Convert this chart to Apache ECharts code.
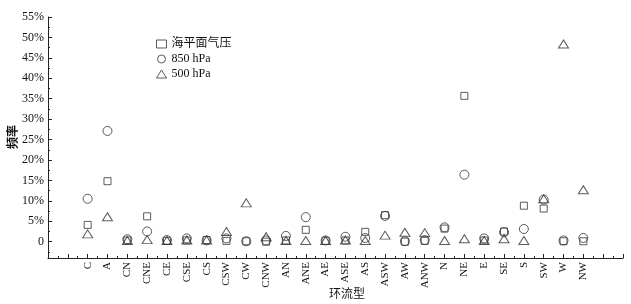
<!DOCTYPE html>
<html>
<head>
<meta charset="utf-8">
<script src="https://cdn.jsdelivr.net/npm/echarts@6/dist/echarts.min.js"></script>
<style>html,body{margin:0;padding:0;background:#fff}#c{width:631px;height:304px}</style>
</head>
<body>
<div id="c"></div>
<script>
var categories = ['C','A','CN','CNE','CE','CSE','CS','CSW','CW','CNW','AN','ANE','AE','ASE','AS','ASW','AW','ANW','N','NE','E','SE','S','SW','W','NW'];
var slpValues  = [4.1,14.8,0.3,6.2,0.2,0.3,0.4,0.2,0.1,0.0,0.3,2.9,0.2,0.3,2.4,6.5,0.0,0.2,3.2,35.7,0.3,2.5,8.8,8.1,0.1,0.1];
var h850Values = [10.5,27.1,0.6,2.5,0.4,0.8,0.3,0.8,0.1,0.3,1.4,6.0,0.3,1.2,0.9,6.3,0.1,0.4,3.5,16.4,0.8,2.3,3.1,10.3,0.3,0.9];
var h500Values = [1.9,6.1,0.3,0.5,0.3,0.4,0.4,2.5,9.5,1.2,0.3,0.3,0.3,0.4,0.3,1.6,2.3,2.2,0.3,0.7,0.3,0.7,0.3,10.5,48.4,12.7];
var yMajorTicks = [0,5,10,15,20,25,30,35,40,45,50,55];
var yMinorTicks = [-2.5,2.5,7.5,12.5,17.5,22.5,27.5,32.5,37.5,42.5,47.5,52.5];
var seriesNames = ['海平面气压','850 hPa','500 hPa'];

function pts(arr){ return arr.map(function(v,i){ return [i, v]; }); }
var FONT = "'Liberation Serif','Noto Sans CJK SC',serif";
var INK = '#222';

var chart = echarts.init(document.getElementById('c'));
var common = {type:'scatter', itemStyle:{color:'rgba(0,0,0,0)', borderColor:'#333', borderWidth:1}, emphasis:{disabled:true}};
chart.setOption({
  animation:false,
  grid:{left:48, right:8, top:17, bottom:46, containLabel:false},
  legend:{
    orient:'vertical', left:151, top:33, itemWidth:10, itemHeight:8, itemGap:3,
    itemStyle:{color:'rgba(0,0,0,0)', borderColor:'#333', borderWidth:1},
    textStyle:{fontFamily:FONT, fontSize:12, color:'#111'},
    data:seriesNames
  },
  xAxis:{
    type:'value', min:-2, max:27, interval:1,
    axisLine:{show:true, onZero:false, lineStyle:{color:INK, width:1}},
    axisTick:{show:true, inside:true, length:4, lineStyle:{color:INK}},
    minorTick:{show:true, splitNumber:2, length:2, lineStyle:{color:INK}},
    splitLine:{show:false}, minorSplitLine:{show:false},
    axisLabel:{rotate:90, margin:4, fontFamily:FONT, fontSize:11, color:'#111',
      formatter:function(v){ return categories[v] !== undefined ? categories[v] : ''; }}
  },
  yAxis:[{
    type:'value', min:-4, max:55,
    axisLine:{show:true, onZero:false, lineStyle:{color:INK, width:1}},
    axisTick:{show:true, inside:true, length:4, customValues:yMajorTicks, lineStyle:{color:INK}},
    splitLine:{show:false},
    axisLabel:{customValues:yMajorTicks, margin:4, fontFamily:FONT, fontSize:12, color:'#111',
      formatter:function(v){ return v === 0 ? '0' : v + '%'; }}
  },{
    type:'value', min:-4, max:55, position:'left',
    axisLine:{show:false, onZero:false},
    axisTick:{show:true, inside:true, length:2, customValues:yMinorTicks, lineStyle:{color:INK}},
    splitLine:{show:false},
    axisLabel:{show:false}
  }],
  graphic:[
    {type:'text', x:12, y:137, rotation:Math.PI/2, style:{text:'频率', font:"bold 12px 'Noto Sans CJK SC'", fill:'#111', align:'center', verticalAlign:'middle'}},
    {type:'text', x:347, y:293, style:{text:'环流型', font:"12px 'Noto Sans CJK SC'", fill:'#111', align:'center', verticalAlign:'middle'}}
  ],
  series:[
    Object.assign({}, common, {name:seriesNames[0], symbol:'rect', symbolSize:7, data:pts(slpValues)}),
    Object.assign({}, common, {name:seriesNames[1], symbol:'circle', symbolSize:9, data:pts(h850Values)}),
    Object.assign({}, common, {name:seriesNames[2], symbol:'triangle', symbolSize:[10,8], data:pts(h500Values)})
  ]
});
</script>
</body>
</html>
